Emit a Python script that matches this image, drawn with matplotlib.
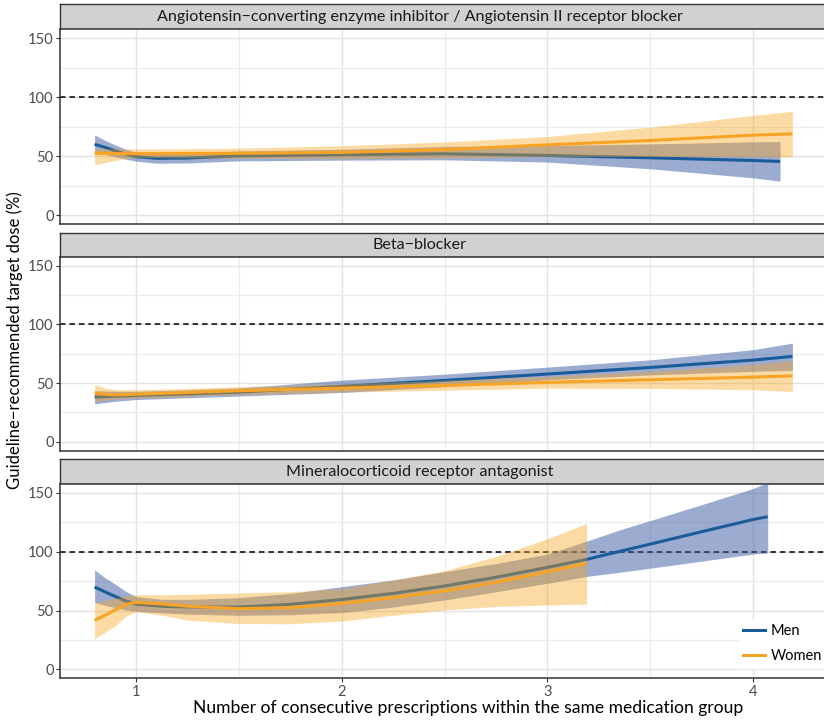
import matplotlib
matplotlib.use("Agg")
import matplotlib.pyplot as plt
from matplotlib.lines import Line2D

plt.rcParams['font.family'] = ['Lato', 'DejaVu Sans']

# ---------------- data ----------------
panel_titles = [
    "Angiotensin\u2212converting enzyme inhibitor / Angiotensin II receptor blocker",
    "Beta\u2212blocker",
    "Mineralocorticoid receptor antagonist",
]

# ACE inhibitor / ARB
acei_men_x = [0.80, 0.85, 0.90, 0.95, 1.00, 1.10, 1.25, 1.50, 2.00, 2.50, 3.00, 3.50, 4.00, 4.13]
acei_men_fit = [60.0, 57.5, 54.5, 51.8, 49.6, 48.2, 48.4, 50.2, 51.2, 52.0, 50.6, 48.6, 46.3, 45.5]
acei_men_lo = [52.5, 51.5, 49.5, 47.5, 45.8, 44.0, 44.2, 46.0, 46.6, 46.9, 45.0, 39.3, 31.6, 28.8]
acei_men_hi = [68.0, 63.5, 59.5, 56.0, 53.4, 52.4, 52.6, 54.4, 55.8, 58.2, 59.0, 60.4, 62.1, 62.4]

acei_women_x = [0.80, 0.90, 1.00, 1.25, 1.50, 2.00, 2.50, 3.00, 3.50, 4.00, 4.19]
acei_women_fit = [52.3, 52.2, 52.1, 52.2, 52.4, 53.2, 55.5, 59.6, 63.3, 67.8, 68.9]
acei_women_lo = [42.7, 46.5, 49.0, 48.6, 48.3, 48.0, 48.5, 49.7, 49.7, 49.7, 49.2]
acei_women_hi = [56.5, 56.3, 56.0, 56.3, 56.8, 58.8, 62.0, 66.7, 74.6, 84.5, 88.0]

# Beta-blocker
bb_men_x = [0.80, 0.90, 1.00, 1.25, 1.50, 2.00, 2.50, 3.00, 3.50, 4.00, 4.19]
bb_men_fit = [38.1, 38.8, 39.5, 40.8, 42.3, 47.2, 52.3, 57.7, 63.3, 69.6, 72.7]
bb_men_lo = [32.4, 34.5, 36.0, 37.5, 39.0, 42.0, 47.0, 52.8, 57.0, 60.0, 60.8]
bb_men_hi = [43.5, 43.0, 43.0, 44.2, 45.8, 52.5, 57.6, 63.6, 69.8, 78.5, 84.0]

bb_women_x = [0.80, 0.85, 0.90, 1.00, 1.25, 1.50, 2.00, 2.50, 3.00, 3.50, 4.00, 4.19]
bb_women_fit = [41.5, 40.5, 40.0, 40.5, 42.0, 43.5, 45.7, 48.0, 50.6, 52.8, 55.1, 56.2]
bb_women_lo = [34.4, 35.5, 36.5, 37.2, 38.8, 40.2, 42.3, 44.0, 45.7, 45.5, 44.3, 42.9]
bb_women_hi = [48.6, 46.0, 44.5, 44.3, 45.5, 47.0, 49.3, 52.3, 55.7, 60.0, 65.8, 69.3]

# Mineralocorticoid receptor antagonist
mra_men_x = [0.80, 0.85, 0.90, 0.95, 1.00, 1.13, 1.25, 1.50, 1.75, 2.00, 2.25, 2.50,
             2.75, 3.00, 3.19, 3.35, 3.50, 3.75, 4.00, 4.07]
mra_men_fit = [70.0, 66.0, 62.0, 58.3, 55.5, 53.6, 53.1, 53.0, 55.3, 59.4, 64.6, 70.9,
               78.3, 86.7, 93.5, 100.2, 106.5, 117.0, 127.4, 129.7]
mra_men_lo = [57.0, 54.5, 52.5, 50.5, 49.5, 48.0, 47.0, 46.0, 46.5, 48.3, 53.0, 59.0,
              66.0, 73.2, 79.0, 82.5, 86.0, 92.0, 98.0, 99.0]
mra_men_hi = [84.6, 78.0, 72.5, 66.5, 62.0, 59.5, 59.5, 61.0, 64.5, 70.3, 76.0, 83.0,
              90.0, 98.0, 109.0, 118.5, 126.5, 140.0, 153.7, 159.0]

mra_women_x = [0.80, 0.85, 0.90, 0.95, 1.00, 1.13, 1.25, 1.50, 1.75, 2.00, 2.25, 2.50,
               2.75, 3.00, 3.19]
mra_women_fit = [41.7, 46.0, 50.5, 55.0, 57.0, 55.6, 53.8, 51.6, 52.5, 56.0, 61.0, 66.7,
                 74.0, 83.0, 90.1]
mra_women_lo = [26.2, 31.5, 37.0, 45.0, 49.0, 46.0, 42.0, 39.0, 38.8, 41.2, 46.0, 50.6,
                53.5, 54.8, 55.6]
mra_women_hi = [57.0, 58.5, 60.5, 62.5, 63.4, 63.5, 63.8, 65.0, 66.0, 68.5, 76.0, 83.9,
                96.0, 111.0, 124.0]

series_names = ["Men", "Women"]
x_ticks = [1, 2, 3, 4]
y_ticks = [0, 50, 100, 150]
target_dose = 100

panels = [
    [(acei_men_x, acei_men_fit, acei_men_lo, acei_men_hi),
     (acei_women_x, acei_women_fit, acei_women_lo, acei_women_hi)],
    [(bb_men_x, bb_men_fit, bb_men_lo, bb_men_hi),
     (bb_women_x, bb_women_fit, bb_women_lo, bb_women_hi)],
    [(mra_men_x, mra_men_fit, mra_men_lo, mra_men_hi),
     (mra_women_x, mra_women_fit, mra_women_lo, mra_women_hi)],
]

# ---------------- styling ----------------
line_colors = ["#1a5c9a", "#f7a326"]
fill_colors = ["#3b5ba5", "#f8a31b"]
fill_alpha = [0.5, 0.4]

W, H = 824, 720
fig = plt.figure(figsize=(W / 100, H / 100), dpi=100)
fig.patch.set_facecolor("white")


def px_rect(x0, y0, x1, y1):
    return [x0 / W, 1 - y1 / H, (x1 - x0) / W, (y1 - y0) / H]


x_left, x_right = 60, 827
layout = [(4, 29.3, 224), (232.7, 256.7, 450.7), (459.3, 484, 678.3)]
xlim = (0.632, 4.358)
ylim = (-7.5, 157.5)
title_center = 420

axes = []
for i, (strip_top, panel_top, panel_bot) in enumerate(layout):
    # facet strip
    sax = fig.add_axes(px_rect(x_left, strip_top, x_right, panel_top))
    sax.set_facecolor("#d1d1d1")
    sax.set_xticks([])
    sax.set_yticks([])
    for sp in sax.spines.values():
        sp.set_color("#333333")
        sp.set_linewidth(1.0)
    sax.text((title_center - x_left) / (x_right - x_left), 0.47, panel_titles[i],
             transform=sax.transAxes, ha="center", va="center",
             fontsize=11.6, color="#1a1a1a")

    ax = fig.add_axes(px_rect(x_left, panel_top, x_right, panel_bot))
    ax.set_xlim(*xlim)
    ax.set_ylim(*ylim)
    ax.set_facecolor("white")
    ax.set_xticks(x_ticks)
    ax.set_xticks([1.5, 2.5, 3.5], minor=True)
    ax.set_yticks(y_ticks)
    ax.set_yticks([25, 75, 125], minor=True)
    ax.grid(which="major", color="#e2e2e2", linewidth=1.0, zorder=0)
    ax.grid(which="minor", color="#ececec", linewidth=0.8, zorder=0)
    ax.set_axisbelow(True)
    for sp in ax.spines.values():
        sp.set_color("#333333")
        sp.set_linewidth(1.1)
    ax.tick_params(axis="y", which="major", length=3, width=0.8, color="#333333",
                   labelsize=10.5, labelcolor="#4d4d4d", pad=1.5)
    ax.tick_params(which="minor", length=0)
    if i < 2:
        ax.tick_params(axis="x", which="major", length=0, labelbottom=False)
    else:
        ax.tick_params(axis="x", which="major", length=3, width=0.8, color="#333333",
                       labelsize=10.5, labelcolor="#4d4d4d", pad=2)

    ax.axhline(target_dose, color="black", linewidth=1.1, linestyle=(0, (3.6, 2.6)),
               zorder=2)

    # each group: band then its fitted line
    for k, (xs, fit, lo, hi) in enumerate(panels[i]):
        ax.fill_between(xs, lo, hi, color=fill_colors[k], alpha=fill_alpha[k],
                        linewidth=0, zorder=3 + 2 * k)
        ax.plot(xs, fit, color=line_colors[k], linewidth=2.2, zorder=4 + 2 * k,
                solid_capstyle="butt")
    axes.append(ax)

fig.text(468 / W, 1 - 708 / H,
         "Number of consecutive prescriptions within the same medication group",
         ha="center", va="center", fontsize=12.6, color="black")

fig.text(15 / W, 1 - 340 / H, "Guideline\u2212recommended target dose (%)",
         rotation=90, ha="center", va="center", fontsize=12, color="black")

handles = [Line2D([], [], color=c, linewidth=2.2) for c in line_colors]
leg = fig.legend(handles, series_names, loc="upper left",
                 bbox_to_anchor=(739 / W, 1 - 620 / H), frameon=True,
                 fontsize=10.5, handlelength=1.45, handletextpad=0.4,
                 labelspacing=0.75, borderpad=0.3, borderaxespad=0)
leg.get_frame().set_facecolor("white")
leg.get_frame().set_edgecolor("white")
leg.get_frame().set_alpha(1)
leg.get_frame().set_boxstyle("square", pad=0)

fig.savefig("out.png", dpi=100, facecolor="white")
